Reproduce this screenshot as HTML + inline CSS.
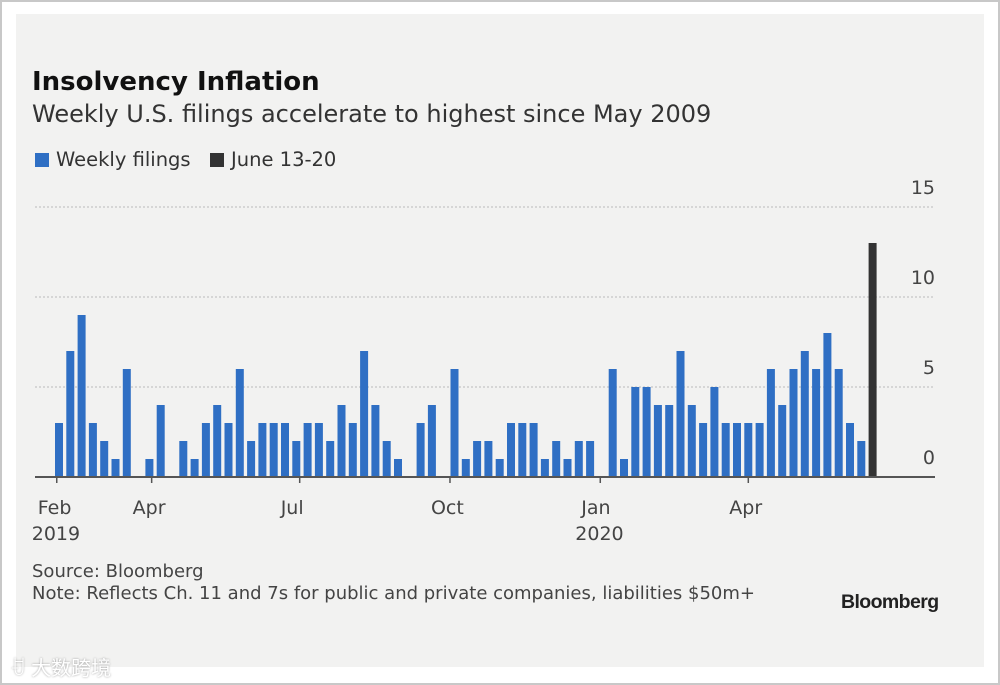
<!DOCTYPE html>
<html><head><meta charset="utf-8"><style>
body{margin:0;width:1000px;height:685px;background:#fff;overflow:hidden;font-family:"DejaVu Sans","Liberation Sans",sans-serif;}
#frame{position:absolute;left:0;top:0;width:996px;height:681px;border:2px solid #c8c8c8;}
#panel{position:absolute;left:16px;top:14px;width:968px;height:653px;background:#f2f2f1;}
.t{position:absolute;white-space:nowrap;color:#333;}
</style></head><body>
<div id="frame"></div>
<div id="panel"></div>
<div class="t" style="left:32px;top:67px;font-size:26px;font-weight:bold;color:#111;">Insolvency Inflation</div>
<div class="t" style="left:32px;top:100px;font-size:24px;color:#333;">Weekly U.S. filings accelerate to highest since May 2009</div>
<div style="position:absolute;left:35px;top:153px;width:14px;height:14px;background:#2f6fc4"></div>
<div class="t" style="left:56px;top:148px;font-size:19.5px;">Weekly filings</div>
<div style="position:absolute;left:210px;top:153px;width:14px;height:14px;background:#333"></div>
<div class="t" style="left:231px;top:148px;font-size:19.5px;">June 13-20</div>
<svg id="chart" style="position:absolute;left:0;top:0" width="1000" height="685"></svg>
<div class="t" style="left:32px;top:561px;font-size:18px;color:#444;">Source: Bloomberg</div>
<div class="t" style="left:32px;top:583px;font-size:18px;color:#444;">Note: Reflects Ch. 11 and 7s for public and private companies, liabilities $50m+</div>
<div class="t" style="left:841px;top:591px;font-size:19.5px;font-weight:bold;color:#222;letter-spacing:-0.6px;font-family:'Liberation Sans',sans-serif;">Bloomberg</div>
<div class="t" style="left:10px;top:652px;font-size:20px;color:#fff;text-shadow:0 0 2px #999;font-family:'Liberation Sans','Noto Sans CJK SC',sans-serif;">ꀀ 大数跨境</div>
<script>
const values=[3,7,9,3,2,1,6,0,1,4,0,2,1,3,4,3,6,2,3,3,3,2,3,3,2,4,3,7,4,2,1,0,3,4,0,6,1,2,2,1,3,3,3,1,2,1,2,2,0,6,1,5,5,4,4,7,4,3,5,3,3,3,3,6,4,6,7,6,8,6,3,2];
const highlightValue=[13];
const yTicks=[0,5,10,15];
const monthLabels=["Feb","Apr","Jul","Oct","Jan","Apr"];
const monthIndex=[-0.2,8.2,21.3,34.6,47.9,61];
const yearLabels=[["2019",0],["2020",4]];
const svg=document.getElementById('chart');
const NS='http://www.w3.org/2000/svg';
const x0=59,step=11.3,y0=477,ppu=18;
const FF='DejaVu Sans, Liberation Sans, sans-serif';
const xS=i=>x0+i*step, yS=v=>y0-v*ppu;
function mk(t,a){const e=document.createElementNS(NS,t);for(const k in a)e.setAttribute(k,a[k]);svg.appendChild(e);return e;}
yTicks.forEach(v=>{
 if(v>0){const l=mk('line',{x1:35,x2:935,y1:yS(v),y2:yS(v),stroke:'#bbb','stroke-dasharray':'2,2'});
 
 }
 const t=mk('text',{x:935,y:yS(v)-13,'text-anchor':'end','font-size':19,fill:'#444','font-family':FF});
 t.textContent=v;
 
 
});
values.forEach((v,i)=>{
 if(v<=0)return;
 const r=mk('rect',{x:xS(i)-4,y:yS(v),width:8,height:v*ppu,fill:'#2f6fc4'});
 
 
});
highlightValue.forEach(v=>{
 const i=values.length;
 const r=mk('rect',{x:xS(i)-4,y:yS(v),width:8,height:v*ppu,fill:'#333'});
 
 
});
const base=mk('line',{x1:35,x2:935,y1:y0,y2:y0,stroke:'#555','stroke-width':2});


monthLabels.forEach((m,k)=>{
 const x=xS(monthIndex[k]);
 const tk=mk('line',{x1:x,x2:x,y1:y0,y2:y0+6,stroke:'#555','stroke-width':1.5});
 
 
 const t=mk('text',{x:x-19,y:514,'font-size':19,fill:'#444','font-family':FF});
 t.textContent=m;
 
 
});
yearLabels.forEach(([y,k])=>{
 const t=mk('text',{x:xS(monthIndex[k])-25,y:540,'font-size':19,fill:'#444','font-family':FF});
 t.textContent=y;
 
 
});
</script>
</body></html>
